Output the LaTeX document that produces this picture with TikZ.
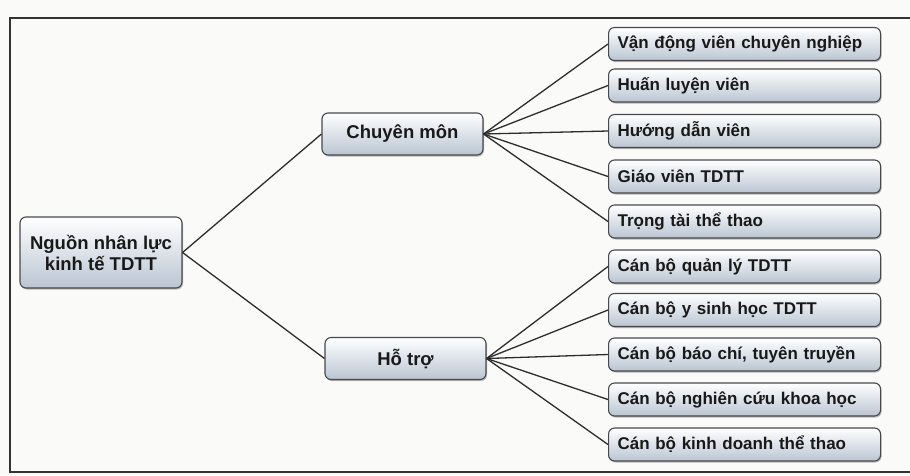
\documentclass[tikz,border=0pt]{standalone}
\usepackage{fontspec}
\setmainfont{Liberation Sans}
\usetikzlibrary{shadows}
\definecolor{boxbot}{RGB}{186,197,210}
\definecolor{boxedge}{RGB}{70,72,76}
\definecolor{linec}{RGB}{45,45,45}
\definecolor{pagebg}{RGB}{250,250,248}
\tikzset{
  basebox/.style={draw=boxedge, line width=1.1pt, rounded corners=6pt,
    top color=white, bottom color=boxbot, font=\bfseries\fontsize{17}{19}\selectfont,
    text=black!90,
    drop shadow={shadow xshift=1pt, shadow yshift=-1.5pt, fill=black!45, opacity=0.6}},
  leafbox/.style={basebox, anchor=west, minimum height=33pt, text width=254pt, align=left,
    inner xsep=9pt, inner ysep=0pt},
  midbox/.style={basebox, minimum width=161pt, minimum height=42pt, align=center,
    font=\bfseries\fontsize{18.5}{21}\selectfont},
  rootbox/.style={basebox, minimum width=162pt, minimum height=71pt, align=center,
    font=\bfseries\fontsize{18.5}{21}\selectfont},
  conn/.style={draw=linec, line width=1.3pt},
  framel/.style={draw=black!80, line width=1.6pt}
}
\begin{document}
\begin{tikzpicture}[x=1pt,y=-1pt]
\fill[pagebg] (0,0) rectangle (910,475);
\useasboundingbox (0,0) rectangle (910,475);
\draw[framel] (910,18) -- (10,18) -- (10,472) -- (910,472);

\node[rootbox] (root) at (101,252.5) {Nguồn nhân lực\\kinh tế TDTT};
\node[midbox] (cm) at (402.5,134) {Chuyên môn};
\node[midbox] (ht) at (405.5,358.5) {Hỗ trợ};

\node[leafbox] (a1) at (608,44) {Vận động viên chuyên nghiệp};
\node[leafbox] (a2) at (608,85.5) {Huấn luyện viên};
\node[leafbox] (a3) at (608,131) {Hướng dẫn viên};
\node[leafbox] (a4) at (608,176.5) {Giáo viên TDTT};
\node[leafbox] (a5) at (608,221.5) {Trọng tài thể thao};

\node[leafbox] (b1) at (608,266.5) {Cán bộ quản lý TDTT};
\node[leafbox] (b2) at (608,310) {Cán bộ y sinh học TDTT};
\node[leafbox] (b3) at (608,354.5) {Cán bộ báo chí, tuyên truyền};
\node[leafbox] (b4) at (608,399.5) {Cán bộ nghiên cứu khoa học};
\node[leafbox] (b5) at (608,444.5) {Cán bộ kinh doanh thể thao};

\draw[conn] (root.east) -- (cm.west);
\draw[conn] (root.east) -- (ht.west);
\foreach \n in {a1,a2,a3,a4,a5} \draw[conn] (cm.east) -- (\n.west);
\foreach \n in {b1,b2,b3,b4,b5} \draw[conn] (ht.east) -- (\n.west);
\end{tikzpicture}
\end{document}
